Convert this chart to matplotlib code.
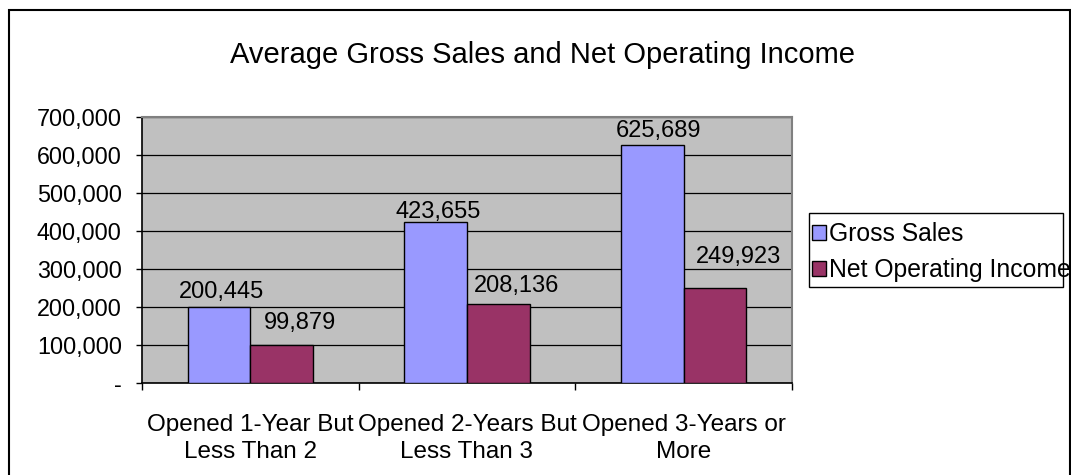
"""Average gross sales vs net operating income by store age."""

import numpy as np
import matplotlib
matplotlib.use('Agg')
import matplotlib.pyplot as plt
from matplotlib.patches import Rectangle
from matplotlib.ticker import FuncFormatter, MultipleLocator

categories = ['Opened 1-Year But\nLess Than 2',
              'Opened 2-Years But\nLess Than 3',
              'Opened 3-Years or\nMore']
gross_sales = [200445, 423655, 625689]
net_income = [99879, 208136, 249923]
series_names = ['Gross Sales', 'Net Operating Income']

plt.rcParams['font.family'] = ['Liberation Sans', 'DejaVu Sans']

W, H = 1071, 475
fig = plt.figure(figsize=(W / 100, H / 100), dpi=100)
ax = fig.add_axes([142 / W, (H - 383) / H, 650 / W, 266 / H])

x = np.arange(len(categories))
bw = 0.29
b1 = ax.bar(x - bw / 2, gross_sales, bw, color='#9999FF', edgecolor='black',
            linewidth=1, label=series_names[0], zorder=3)
b2 = ax.bar(x + bw / 2, net_income, bw, color='#993366', edgecolor='black',
            linewidth=1, label=series_names[1], zorder=3)

# label nudges in pixels (dx, gap from bar top to baseline), as placed in the original
nudges = [[(3, 9), (3, 4), (6, 8)], [(18, 16), (18, 12), (23, 25)]]
for bars, offs in zip((b1, b2), nudges):
    for rect, (dx, dy) in zip(bars, offs):
        v = rect.get_height()
        ax.annotate(f'{v:,.0f}', (rect.get_x() + rect.get_width() / 2, v),
                    xytext=(dx * 0.72, dy * 0.72), textcoords='offset points',
                    ha='center', va='baseline', fontsize=17)

ax.set_facecolor('#C0C0C0')
ax.set_xlim(-0.5, 2.5)
ax.set_ylim(0, 700000)
ax.yaxis.set_major_locator(MultipleLocator(100000))
ax.yaxis.set_major_formatter(FuncFormatter(lambda v, p: '-' if v == 0 else f'{v:,.0f}'))
ax.grid(axis='y', color='black', linewidth=0.9, zorder=1)
ax.set_axisbelow(True)

ax.set_xticks(x)
ax.set_xticklabels(categories, fontsize=17.5, linespacing=1.3)
ax.set_xticks([-0.5, 0.5, 1.5, 2.5], minor=True)
ax.tick_params(axis='x', which='major', length=0, pad=22)
ax.tick_params(axis='x', which='minor', length=5, width=1, direction='out')
ax.tick_params(axis='y', length=4.5, width=1, direction='out', labelsize=16.8, pad=10)

for side in ('top', 'right'):
    ax.spines[side].set_color('#808080')
    ax.spines[side].set_linewidth(1.5)
for side in ('left', 'bottom'):
    ax.spines[side].set_color('black')
    ax.spines[side].set_linewidth(1.2)

# legend text overflows its box in the original, so draw the box separately
leg = ax.legend(loc='upper left', bbox_to_anchor=(812 / W, 1 - 222 / H),
                bbox_transform=fig.transFigure, fontsize=17.8, frameon=False,
                borderpad=0, handlelength=0.55, handleheight=0.55,
                handletextpad=0.15, labelspacing=0.5, borderaxespad=0)
for h in leg.legend_handles:
    h.set_edgecolor('black')
    h.set_linewidth(1)
fig.patches.append(Rectangle((809 / W, 1 - 287 / H), (1063 - 809) / W, 74 / H,
                             transform=fig.transFigure, fill=False,
                             edgecolor='black', linewidth=1))

fig.text(543 / W, 1 - 55 / H, 'Average Gross Sales and Net Operating Income',
         ha='center', va='center', fontsize=21)

# chart border
fig.patches.append(Rectangle((9 / W, -0.1), (1070 - 9) / W, 1.1 - 10 / H,
                             transform=fig.transFigure, fill=False,
                             edgecolor='black', linewidth=1.5))

fig.savefig('out.png', dpi=100)
